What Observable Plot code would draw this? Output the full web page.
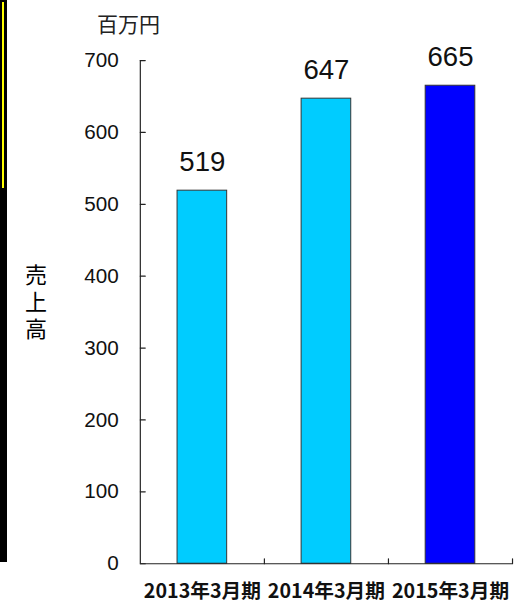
<!DOCTYPE html>
<html>
<head>
<meta charset="utf-8">
<script src="https://cdn.jsdelivr.net/npm/d3@7"></script>
<script src="https://cdn.jsdelivr.net/npm/@observablehq/plot@0.6"></script>
<style>
  html, body { margin: 0; padding: 0; background: #fff; }
  #wrap { position: relative; width: 514px; height: 606px; overflow: hidden; background: #fff; }
  #chart svg { display: block; overflow: visible; }
  #edge { position: absolute; left: 0; top: 0; width: 7px; height: 562px; background: #000; }
  #edge-hl { position: absolute; left: 2px; top: 2px; width: 2px; height: 186px; background: #ffff00; }
  #unit { position: absolute; left: 97px; top: 8px; font: 400 21px "Noto Sans CJK JP", sans-serif; color: #222; white-space: nowrap; }
  #ylabel { position: absolute; left: 20px; top: 264px; font: 400 22px "Noto Sans CJK JP", sans-serif; color: #000; writing-mode: vertical-rl; letter-spacing: 5px; }
</style>
</head>
<body>
<div id="wrap">
  <div id="chart"></div>
  <div id="edge"></div>
  <div id="edge-hl"></div>
  <div id="unit">百万円</div>
  <div id="ylabel">売上高</div>
</div>
<script>
const categories = ["2013年3月期", "2014年3月期", "2015年3月期"];
const sales = [519, 647, 665];
const barColors = ["#00CCFF", "#00CCFF", "#0000FF"];
const yTicks = [0, 100, 200, 300, 400, 500, 600, 700];

const data = categories.map((c, i) => ({c, i, v: sales[i], color: barColors[i]}));
const boundaries = categories.map((c, i) => i + 1);

const chart = Plot.plot({
  width: 522,
  height: 606,
  marginLeft: 142,
  marginRight: 2,
  marginTop: 61,
  marginBottom: 34,
  style: {background: "transparent"},
  x: {domain: [0, categories.length], axis: null},
  y: {domain: [0, 700], axis: null},
  marks: [
    Plot.rectY(data, {x1: d => d.i + 0.3, x2: d => d.i + 0.7, y1: 0, y2: "v", fill: "color", stroke: "#333", strokeWidth: 1}),
    Plot.ruleX([0], {stroke: "#222", strokeWidth: 1.2}),
    Plot.ruleY([0], {stroke: "#222", strokeWidth: 1.2}),
    Plot.vector(yTicks, {y: d => d, frameAnchor: "left", rotate: 90, length: 5, r: 0, anchor: "start", stroke: "#222", strokeWidth: 1.2}),
    Plot.vector(boundaries, {x: d => d, frameAnchor: "bottom", rotate: 0, length: 5, r: 0, anchor: "start", stroke: "#222", strokeWidth: 1.2}),
    Plot.axisY({ticks: yTicks, tickSize: 0, tickPadding: 22, label: null, tickFormat: d => String(d), fontSize: 21, fontFamily: "Liberation Sans, Arial, sans-serif", fill: "#111"}),
    Plot.axisX({ticks: categories.map((c, i) => i + 0.5), tickSize: 0, tickPadding: 21, label: null, tickFormat: d => categories[Math.floor(d)], fontSize: 20, fontWeight: "bold", fontFamily: "Noto Sans CJK JP, sans-serif", fill: "#111"}),
    Plot.text(data, {x: d => d.i + 0.5, y: "v", text: d => String(d.v), dy: -20, lineAnchor: "bottom", fontSize: 28, fontFamily: "Liberation Sans, Arial, sans-serif", fill: "#111"})
  ]
});
document.getElementById("chart").appendChild(chart);
</script>
</body>
</html>
